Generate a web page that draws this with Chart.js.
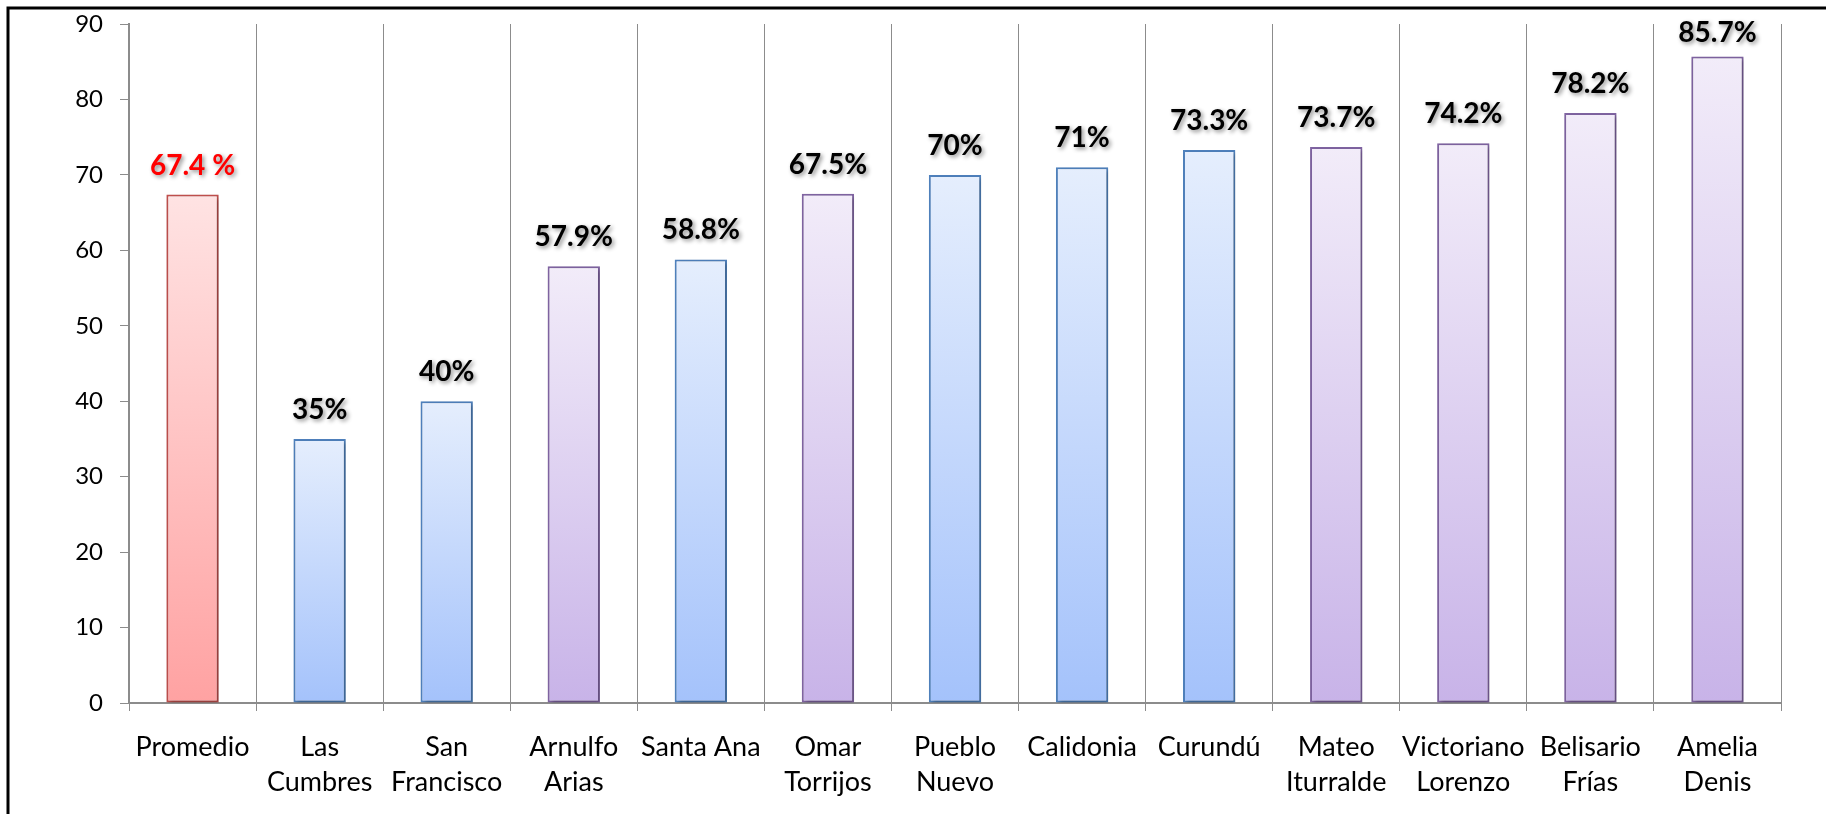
<!DOCTYPE html>
<html>
<head>
<meta charset="utf-8">
<script src="https://cdn.jsdelivr.net/npm/chart.js@4/dist/chart.umd.min.js"></script>
<style>
  html, body { margin: 0; padding: 0; background: #fff; overflow: hidden; }
  #wrap { width: 1826px; height: 814px; position: relative; }
</style>
</head>
<body>
<div id="wrap"><canvas id="c" width="1826" height="814"></canvas></div>
<script>
// ---- data ----
const categories = [
  'Promedio', ['Las', 'Cumbres'], ['San', 'Francisco'], ['Arnulfo', 'Arias'], 'Santa Ana',
  ['Omar', 'Torrijos'], ['Pueblo', 'Nuevo'], 'Calidonia', 'Curundú', ['Mateo', 'Iturralde'],
  ['Victoriano', 'Lorenzo'], ['Belisario', 'Frías'], ['Amelia', 'Denis']
];
const values = [67.4, 35, 40, 57.9, 58.8, 67.5, 70, 71, 73.3, 73.7, 74.2, 78.2, 85.7];
const valueLabels = ['67.4 %', '35%', '40%', '57.9%', '58.8%', '67.5%', '70%', '71%', '73.3%', '73.7%', '74.2%', '78.2%', '85.7%'];
const yTickValues = [0, 10, 20, 30, 40, 50, 60, 70, 80, 90];
const yTickLabels = ['0', '10', '20', '30', '40', '50', '60', '70', '80', '90'];

// ---- styles ----
const barGroup = ['avg', 'blue', 'blue', 'purple', 'blue', 'purple', 'blue', 'blue', 'blue', 'purple', 'purple', 'purple', 'purple'];
const palette = {
  avg:    { top: '#ffe3e3', bottom: '#ffa2a2', border: '#c0504d', label: '#ff0000' },
  blue:   { top: '#e5eefd', bottom: '#a4c2fb', border: '#4f81bd', label: '#000000' },
  purple: { top: '#f2ecf9', bottom: '#c8b3e8', border: '#8064a2', label: '#000000' }
};
const FONT = 'Lato, "Open Sans", sans-serif';

const frame = {
  id: 'frame',
  afterDraw(chart) {
    const c = chart.ctx;
    c.save();
    c.strokeStyle = '#000';
    c.lineWidth = 3;
    c.beginPath();
    c.moveTo(8, 900); c.lineTo(8, 8); c.lineTo(1900, 8);
    c.stroke();
    c.restore();
  }
};

const barShadow = {
  id: 'barShadow',
  beforeDatasetDraw(chart) {
    const c = chart.ctx;
    c.save();
    c.shadowColor = 'rgba(0,0,0,0.28)';
    c.shadowBlur = 4;
    c.shadowOffsetX = 2;
    c.shadowOffsetY = 2;
  },
  afterDatasetDraw(chart) {
    chart.ctx.restore();
  }
};

const valueLabelPlugin = {
  id: 'valueLabels',
  afterDatasetsDraw(chart) {
    const c = chart.ctx;
    const meta = chart.getDatasetMeta(0);
    const minBaseline = chart.chartArea.top + 18;
    c.save();
    c.font = 'bold 28px ' + FONT;
    c.textAlign = 'center';
    c.textBaseline = 'alphabetic';
    c.shadowColor = 'rgba(0,0,0,0.45)';
    c.shadowBlur = 4;
    c.shadowOffsetX = 2;
    c.shadowOffsetY = 2;
    meta.data.forEach((bar, i) => {
      c.fillStyle = palette[barGroup[i]].label;
      c.fillText(valueLabels[i], bar.x, Math.max(bar.y - 20, minBaseline));
    });
    c.restore();
  }
};

function gradientFor(ctx) {
  const chart = ctx.chart;
  const p = palette[barGroup[ctx.dataIndex]];
  const ys = chart.scales && chart.scales.y;
  if (!ys || !chart.chartArea || ctx.parsed === undefined) return p.bottom;
  const top = ys.getPixelForValue(ctx.parsed.y);
  const bot = ys.getPixelForValue(0);
  const g = chart.ctx.createLinearGradient(0, top, 0, bot);
  g.addColorStop(0, p.top);
  g.addColorStop(1, p.bottom);
  return g;
}

new Chart(document.getElementById('c'), {
  type: 'bar',
  data: {
    labels: categories,
    datasets: [{
      data: values,
      backgroundColor: gradientFor,
      borderColor: ctx => palette[barGroup[ctx.dataIndex]].border,
      borderWidth: 2,
      borderSkipped: false,
      categoryPercentage: 1,
      barPercentage: 0.412
    }]
  },
  options: {
    responsive: false,
    animation: false,
    devicePixelRatio: 1,
    layout: { padding: { left: 0, top: 24, right: 45, bottom: 0 } },
    plugins: { legend: { display: false }, tooltip: { enabled: false } },
    scales: {
      x: {
        offset: true,
        grid: { display: true, offset: true, color: '#8c8c8c', lineWidth: 1, drawOnChartArea: true, drawTicks: true, tickLength: 8 },
        border: { display: true, color: '#8c8c8c', width: 2 },
        ticks: {
          color: '#000',
          font: { family: FONT, size: 27, lineHeight: '35px' },
          padding: 19,
          maxRotation: 0,
          minRotation: 0,
          autoSkip: false
        },
        afterFit(scale) { scale.height = 111; scale.paddingLeft = 0; scale.paddingRight = 0; }
      },
      y: {
        min: 0, max: 90,
        grid: { display: true, drawOnChartArea: false, drawTicks: true, tickLength: 9, color: '#8c8c8c', lineWidth: 1 },
        border: { display: true, color: '#8c8c8c', width: 2 },
        afterBuildTicks(scale) { scale.ticks = yTickValues.map(v => ({ value: v })); },
        ticks: {
          color: '#000',
          font: { family: FONT, size: 24 },
          padding: 17,
          callback: (v) => yTickLabels[yTickValues.indexOf(v)]
        },
        afterFit(scale) { scale.width = 129; scale.paddingTop = 0; scale.paddingBottom = 0; }
      }
    }
  },
  plugins: [barShadow, valueLabelPlugin, frame]
});
</script>
</body>
</html>
